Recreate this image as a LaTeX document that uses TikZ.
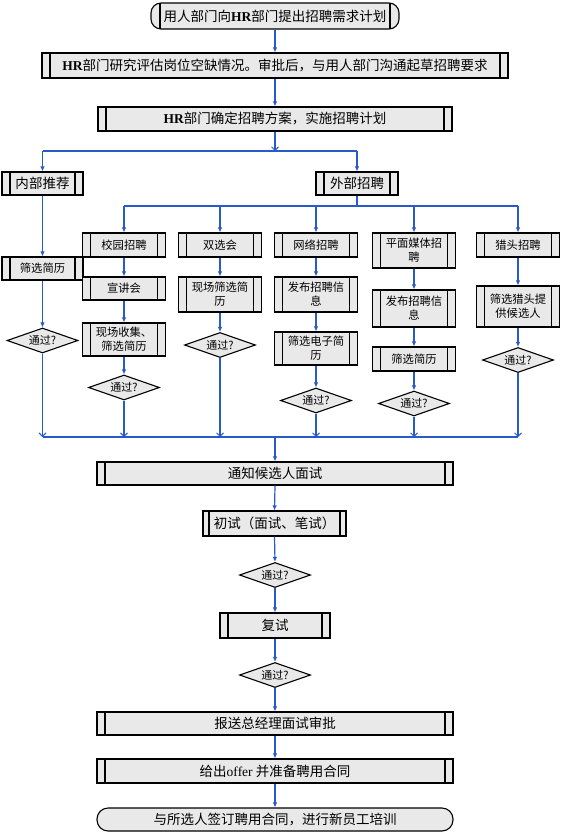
\documentclass[tikz,border=0pt]{standalone}
\usepackage{fontspec}
\setmainfont{Noto Sans CJK SC}
\newfontfamily\latn{Liberation Serif}
\usetikzlibrary{shapes.geometric,arrows.meta}
\definecolor{lblue}{RGB}{40,90,200}
\definecolor{boxgray}{RGB}{233,233,233}
\tikzset{
  base/.style={draw=black, line width=1.1pt, fill=boxgray, inner sep=0pt, align=center,
    font=\fontsize{13.5}{15}\selectfont},
  sm/.style={font=\fontsize{11.3}{14}\selectfont},
  proc/.style={base, rectangle, path picture={
      \draw[line width=1.1pt] ([xshift=#1]path picture bounding box.north west) -- ([xshift=#1]path picture bounding box.south west);
      \draw[line width=1.1pt] ([xshift=-#1]path picture bounding box.north east) -- ([xshift=-#1]path picture bounding box.south east);}},
  proc/.default=8pt,
  termA/.style={base, rectangle, rounded corners=10pt, path picture={
      \draw[line width=1.1pt] ([xshift=9pt]path picture bounding box.north west) -- ([xshift=9pt]path picture bounding box.south west);
      \draw[line width=1.1pt] ([xshift=-9pt]path picture bounding box.north east) -- ([xshift=-9pt]path picture bounding box.south east);}},
  termB/.style={base, rectangle, rounded corners=11pt},
  dia/.style={base, diamond, aspect=2.84, minimum width=71pt, minimum height=25pt,
    font=\fontsize{11}{13}\selectfont},
  conn/.style={draw=lblue, line width=1.2pt},
  arr/.style={conn, -{Latex[length=5pt,width=4.5pt]}},
  oarr/.style={conn, -{Straight Barb[length=3.5pt,width=7pt,line width=0.9pt]}},
}
\begin{document}
\begin{tikzpicture}[x=1pt,y=-1pt]
\useasboundingbox (0,0) rectangle (562,834);

% top part
\node[termA, minimum width=248pt, minimum height=26pt] (t1) at (275,16) {用人部门向{\latn\bfseries HR}部门提出招聘需求计划};
\node[proc, minimum width=466pt, minimum height=25pt] (b2) at (275,65.5) {{\latn\bfseries HR}部门研究评估岗位空缺情况。审批后，与用人部门沟通起草招聘要求};
\node[proc, minimum width=354pt, minimum height=24pt] (b3) at (275,119) {{\latn\bfseries HR}部门确定招聘方案，实施招聘计划};

\node[proc, minimum width=81pt, minimum height=23pt] (n1) at (42.5,183.5) {内部推荐};
\node[proc, minimum width=82pt, minimum height=23pt] (w1) at (357,183.5) {外部招聘};

% second level
\node[proc, sm, minimum width=83pt, minimum height=24pt] (x1) at (124,245) {校园招聘};
\node[proc, sm, minimum width=83pt, minimum height=24pt] (x2) at (220,245) {双选会};
\node[proc, sm, minimum width=83pt, minimum height=24pt] (x3) at (316,245) {网络招聘};
\node[proc, sm, minimum width=83pt, minimum height=35pt] (x4) at (414,250.5) {平面媒体招\\聘};
\node[proc, sm, minimum width=83pt, minimum height=24pt] (x5) at (518,245) {猎头招聘};

% left column
\node[proc, sm, minimum width=81pt, minimum height=23pt] (n2) at (42.5,268.5) {筛选简历};
\node[dia] (nd) at (42.5,340.5) {通过?};

% column 1
\node[proc, sm, minimum width=83pt, minimum height=23pt] (x1b) at (124,288.5) {宣讲会};
\node[proc, sm, minimum width=83pt, minimum height=33pt] (x1c) at (124,339.5) {现场收集、\\筛选简历};
\node[dia] (x1d) at (124,387.5) {通过?};

% column 2
\node[proc, sm, minimum width=83pt, minimum height=35pt] (x2b) at (220,294.5) {现场筛选简\\历};
\node[dia] (x2d) at (220,345) {通过?};

% column 3
\node[proc, sm, minimum width=83pt, minimum height=35pt] (x3b) at (316,294.5) {发布招聘信\\息};
\node[proc, sm, minimum width=83pt, minimum height=33pt] (x3c) at (316,348.5) {筛选电子简\\历};
\node[dia] (x3d) at (316,400.5) {通过?};

% column 4
\node[proc, sm, minimum width=83pt, minimum height=37pt] (x4b) at (414,308.5) {发布招聘信\\息};
\node[proc, sm, minimum width=83pt, minimum height=24pt] (x4c) at (414,359) {筛选简历};
\node[dia] (x4d) at (414,403.5) {通过?};

% column 5
\node[proc, sm, minimum width=83pt, minimum height=41pt] (x5b) at (518,306.5) {筛选猎头提\\供候选人};
\node[dia] (x5d) at (518,360) {通过?};

% bottom part
\node[proc, minimum width=356pt, minimum height=23pt] (m1) at (275,473.5) {通知候选人面试};
\node[proc=6pt, minimum width=143pt, minimum height=25pt] (m2) at (274.5,523.5) {初试（面试、笔试）};
\node[dia] (m3) at (275,575) {通过?};
\node[proc, minimum width=110pt, minimum height=25pt] (m4) at (275,625.5) {复试};
\node[dia] (m5) at (275,675) {通过?};
\node[proc, minimum width=356pt, minimum height=23pt] (m6) at (275,723.5) {报送总经理面试审批};
\node[proc, minimum width=356pt, minimum height=24pt] (m7) at (275,771) {给出{\latn offer} 并准备聘用合同};
\node[termB, minimum width=356pt, minimum height=23pt] (m8) at (275,819.5) {与所选人签订聘用合同，进行新员工培训};

% coordinates
\coordinate (s0) at (275,151);
\coordinate (sL) at (42.5,151);
\coordinate (sR) at (357,151);
\coordinate (bc) at (357,206);
\coordinate (b1) at (124,206);
\coordinate (b2c) at (220,206);
\coordinate (b3c) at (316,206);
\coordinate (b4c) at (414,206);
\coordinate (b5) at (518,206);
\coordinate (g0) at (42.5,437);
\coordinate (g1) at (124,437);
\coordinate (g2) at (220,437);
\coordinate (g3) at (316,437);
\coordinate (g4) at (414,437);
\coordinate (g5) at (518,437);
\coordinate (gc) at (275,437);

% connectors
\draw[arr] (t1.south) -- (b2.north);
\draw[arr] (b2.south) -- (b3.north);
\draw[oarr] (b3.south) -- (s0);
\draw[conn] (sL) -- (sR);
\draw[arr] (sL) -- (n1.north);
\draw[arr] (sR) -- (w1.north);
\draw[conn] (w1.south) -- (bc);
\draw[conn] (b1) -- (b5);
\draw[arr] (b1) -- (x1.north);
\draw[arr] (b2c) -- (x2.north);
\draw[arr] (b3c) -- (x3.north);
\draw[arr] (b4c) -- (x4.north);
\draw[arr] (b5) -- (x5.north);

\draw[arr] (n1.south) -- (n2.north);
\draw[arr] (n2.south) -- (nd.north);
\draw[arr] (x1.south) -- (x1b.north);
\draw[arr] (x1b.south) -- (x1c.north);
\draw[arr] (x1c.south) -- (x1d.north);
\draw[arr] (x2.south) -- (x2b.north);
\draw[arr] (x2b.south) -- (x2d.north);
\draw[arr] (x3.south) -- (x3b.north);
\draw[arr] (x3b.south) -- (x3c.north);
\draw[arr] (x3c.south) -- (x3d.north);
\draw[arr] (x4.south) -- (x4b.north);
\draw[arr] (x4b.south) -- (x4c.north);
\draw[arr] (x4c.south) -- (x4d.north);
\draw[arr] (x5.south) -- (x5b.north);
\draw[arr] (x5b.south) -- (x5d.north);

\draw[conn] (g0) -- (g5);
\draw[oarr] (nd.south) -- (g0);
\draw[oarr] (x1d.south) -- (g1);
\draw[oarr] (x2d.south) -- (g2);
\draw[oarr] (x3d.south) -- (g3);
\draw[oarr] (x4d.south) -- (g4);
\draw[oarr] (x5d.south) -- (g5);
\draw[arr] (gc) -- (m1.north);

\draw[arr] (m1.south) -- (m2.north);
\draw[arr] (m2.south) -- (m3.north);
\draw[arr] (m3.south) -- (m4.north);
\draw[arr] (m4.south) -- (m5.north);
\draw[arr] (m5.south) -- (m6.north);
\draw[arr] (m6.south) -- (m7.north);
\draw[arr] (m7.south) -- (m8.north);
\end{tikzpicture}
\end{document}
